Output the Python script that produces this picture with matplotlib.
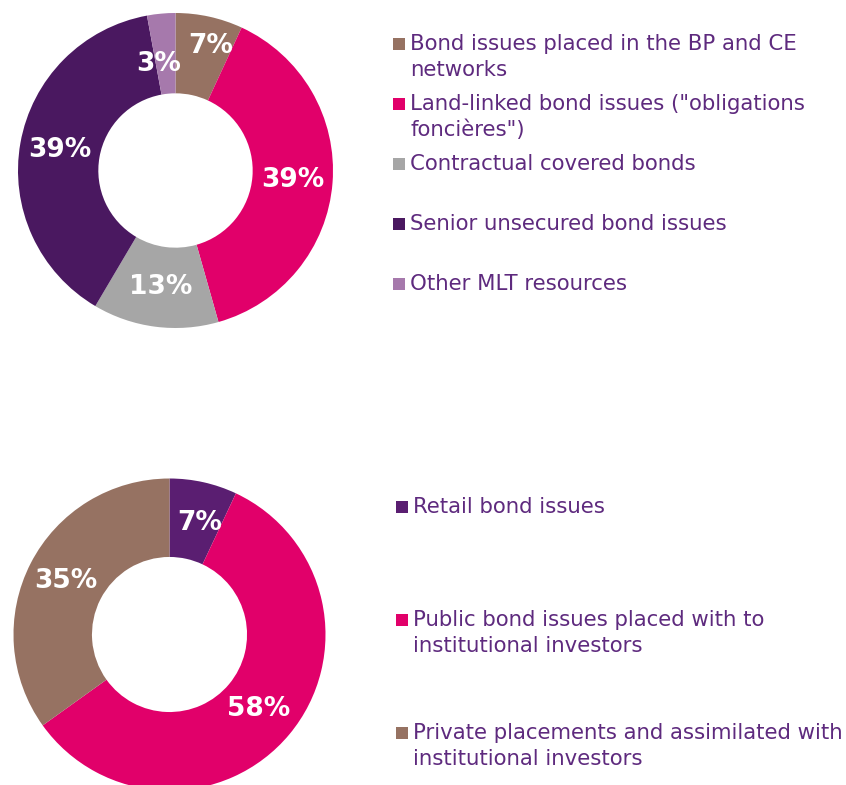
import matplotlib
matplotlib.use("Agg")
import matplotlib.pyplot as plt
from matplotlib.patches import Rectangle

# ---- data ----
top_labels = ["Bond issues placed in the BP and CE\nnetworks",
              "Land-linked bond issues (\"obligations\nfoncières\")",
              "Contractual covered bonds",
              "Senior unsecured bond issues",
              "Other MLT resources"]
top_values = [6.9, 38.7, 12.9, 38.6, 2.9]
top_colors = ["#967262", "#E1006A", "#A6A6A6", "#4A1860", "#A679AC"]

bot_labels = ["Retail bond issues",
              "Public bond issues placed with to\ninstitutional investors",
              "Private placements and assimilated with\ninstitutional investors"]
bot_values = [7.0, 58.1, 34.9]
bot_colors = ["#5A1E71", "#E1006A", "#967262"]

W, H = 846, 785
TEXT_COLOR = "#5E2A7E"

fig = plt.figure(figsize=(W / 100, H / 100), dpi=100)
ax = fig.add_axes([0, 0, 1, 1])


def donut(values, colors, center, radius, hole, label_r, nudges):
    wedges, _, autotexts = ax.pie(
        values, colors=colors, startangle=90, counterclock=False,
        center=center, radius=radius, autopct="%.0f%%",
        pctdistance=label_r,
        wedgeprops=dict(width=radius * (1 - hole), linewidth=0),
        textprops=dict(color="white", fontsize=19, fontweight="bold"),
        frame=True)
    for t, (dx, dy) in zip(autotexts, nudges):
        x, y = t.get_position()
        t.set_position((x + dx, y + dy))
    return wedges


donut(top_values, top_colors, (175.5, H - 170.5), 157.5, 0.49, 0.745,
      [(10, 10), (0, 0), (0, 0), (0, 0), (-6, -10)])
donut(bot_values, bot_colors, (169.5, H - 634.5), 156.0, 0.497, 0.745,
      [(5, -2), (0, 0), (0, 0)])
ax.set_xlim(0, W)
ax.set_ylim(0, H)
ax.set_aspect("equal")
ax.axis("off")


def legend(labels, colors, ys, marker_x, text_x):
    for lab, col, y in zip(labels, colors, ys):
        ax.add_patch(Rectangle((marker_x, H - y - 6), 12, 12, color=col, lw=0))
        ax.text(text_x, H - y + 10, lab, fontsize=15.3, color=TEXT_COLOR,
                va="top", ha="left", linespacing=1.36)


legend(top_labels, top_colors, [44, 104, 164, 224, 284], 393, 410)
legend(bot_labels, bot_colors, [507, 620, 733], 396, 413)

fig.savefig("out.png", dpi=100)
